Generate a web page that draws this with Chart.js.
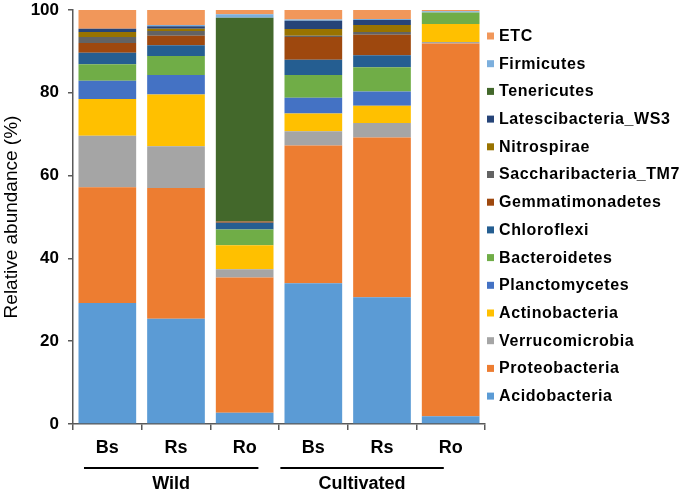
<!DOCTYPE html>
<html>
<head>
<meta charset="utf-8">
<script src="https://cdn.jsdelivr.net/npm/chart.js@4/dist/chart.umd.min.js"></script>
<style>
  html, body { margin: 0; padding: 0; background: #fff; }
  #wrap { width: 685px; height: 491px; position: relative; }
</style>
</head>
<body>
<div id="wrap"><canvas id="c" width="685" height="491"></canvas></div>
<script>
// ---------- DATA ----------
const categories = ['Bs', 'Rs', 'Ro', 'Bs', 'Rs', 'Ro'];
const groups = [
  { label: 'Wild', from: 0, to: 2 },
  { label: 'Cultivated', from: 3, to: 5 }
];
const yTicks = [0, 20, 40, 60, 80, 100];

const Acidobacteria        = [29.2, 25.4, 2.7, 34.0, 30.6, 1.9];
const Proteobacteria       = [28.0, 31.6, 32.7, 33.3, 38.6, 90.0];
const Verrucomicrobia      = [12.4, 10.1, 2.0, 3.4, 3.5, 0.4];
const Actinobacteria       = [8.9, 12.5, 5.8, 4.3, 4.2, 4.3];
const Planctomycetes       = [4.4, 4.7, 0.0, 3.8, 3.4, 0.0];
const Bacteroidetes        = [4.0, 4.6, 3.8, 5.5, 5.9, 2.8];
const Chloroflexi          = [2.8, 2.6, 1.6, 3.7, 2.9, 0.0];
const Gemmatimonadetes     = [2.3, 2.3, 0.3, 5.5, 4.9, 0.0];
const Saccharibacteria_TM7 = [1.5, 1.1, 0.0, 0.3, 0.7, 0.0];
const Nitrospirae          = [1.2, 0.6, 0.0, 1.6, 1.7, 0.0];
const Latescibacteria_WS3  = [0.8, 0.6, 0.0, 2.0, 1.2, 0.0];
const Tenericutes          = [0.0, 0.0, 49.2, 0.0, 0.0, 0.0];
const Firmicutes           = [0.0, 0.3, 0.9, 0.3, 0.2, 0.3];
const ETC                  = [4.5, 3.6, 1.0, 2.3, 2.2, 0.3];

// ---------- STYLE ----------
const FONT = '"Liberation Sans", Arial, sans-serif';
const AXIS = '#595959';
const seriesDefs = [
  ['Acidobacteria', Acidobacteria, '#5B9BD5'],
  ['Proteobacteria', Proteobacteria, '#ED7D31'],
  ['Verrucomicrobia', Verrucomicrobia, '#A5A5A5'],
  ['Actinobacteria', Actinobacteria, '#FFC000'],
  ['Planctomycetes', Planctomycetes, '#4472C4'],
  ['Bacteroidetes', Bacteroidetes, '#70AD47'],
  ['Chloroflexi', Chloroflexi, '#255E91'],
  ['Gemmatimonadetes', Gemmatimonadetes, '#9E480E'],
  ['Saccharibacteria_TM7', Saccharibacteria_TM7, '#636363'],
  ['Nitrospirae', Nitrospirae, '#997300'],
  ['Latescibacteria_WS3', Latescibacteria_WS3, '#264478'],
  ['Tenericutes', Tenericutes, '#43682B'],
  ['Firmicutes', Firmicutes, '#7CAFDD'],
  ['ETC', ETC, '#F1975A']
];
const groupLineAdjust = [ { l: -0.34, r: 0.20 }, { l: -0.48, r: -0.10 } ];

const datasets = seriesDefs.map(([label, data, color]) => ({
  label, data,
  backgroundColor: color,
  borderWidth: 0,
  categoryPercentage: 1.0,
  barPercentage: 0.84
}));

// legend drawn at right, top = ETC
const legendPlugin = {
  id: 'sideLegend',
  afterDraw(chart) {
    const ctx = chart.ctx;
    const ds = chart.data.datasets.slice().reverse();
    const x0 = chart.chartArea.right + 2;
    const y0 = 36, step = 27.7;
    ctx.save();
    ctx.font = 'bold 16px ' + FONT;
    ctx.letterSpacing = '0.6px';
    ctx.textBaseline = 'middle';
    ctx.textAlign = 'left';
    ds.forEach((d, i) => {
      const y = y0 + i * step;
      ctx.fillStyle = d.backgroundColor;
      ctx.fillRect(x0, y - 3.5, 7, 7);
      ctx.fillStyle = '#000';
      ctx.fillText(d.label, x0 + 12, y + 0.5);
    });
    ctx.restore();
  }
};

const groupPlugin = {
  id: 'groups',
  afterDraw(chart) {
    const ctx = chart.ctx;
    const xs = chart.scales.x;
    const cat = (xs.getPixelForValue(1) - xs.getPixelForValue(0));
    ctx.save();
    groups.forEach((g, i) => {
      const adj = groupLineAdjust[i];
      const x1 = xs.getPixelForValue(g.from) + adj.l * cat;
      const x2 = xs.getPixelForValue(g.to) + adj.r * cat;
      const ly = chart.chartArea.bottom + 44;
      ctx.strokeStyle = '#000';
      ctx.lineWidth = 2;
      ctx.beginPath();
      ctx.moveTo(x1, ly); ctx.lineTo(x2, ly);
      ctx.stroke();
      ctx.fillStyle = '#000';
      ctx.font = 'bold 18px ' + FONT;
      ctx.textAlign = 'center';
      ctx.textBaseline = 'middle';
      ctx.fillText(g.label, (x1 + x2) / 2, ly + 16);
    });
    ctx.restore();
  }
};

new Chart(document.getElementById('c'), {
  type: 'bar',
  data: { labels: categories, datasets },
  plugins: [legendPlugin, groupPlugin],
  options: {
    responsive: false,
    animation: false,
    layout: { padding: { top: 10, right: 200, left: 0, bottom: 0 } },
    plugins: { legend: { display: false }, tooltip: { enabled: false } },
    scales: {
      x: {
        stacked: true,
        offset: true,
        afterFit(s) { s.height = 67; s.paddingLeft = 0; s.paddingRight = 0; },
        grid: { display: true, drawOnChartArea: false, drawTicks: true, tickLength: 6, offset: true, color: AXIS, lineWidth: 1.5 },
        border: { display: true, color: AXIS, width: 1.5 },
        ticks: { color: '#000', font: { family: FONT, size: 18, weight: 'bold' }, padding: 7, maxRotation: 0 }
      },
      y: {
        stacked: true,
        min: 0, max: 100,
        afterFit(s) { s.width = 73; s.paddingTop = 0; s.paddingBottom = 0; },
        afterBuildTicks(s) { s.ticks = yTicks.map(v => ({ value: v })); },
        grid: { display: true, drawOnChartArea: false, drawTicks: true, tickLength: 5, color: AXIS, lineWidth: 1.5 },
        border: { display: true, color: AXIS, width: 1.5 },
        ticks: { color: '#000', font: { family: FONT, size: 17, weight: 'bold' }, padding: 9 },
        title: { display: true, text: 'Relative abundance (%)', color: '#000', font: { family: FONT, size: 19, weight: 'normal' }, padding: { top: 0, bottom: 0 } }
      }
    }
  }
});
</script>
</body>
</html>
